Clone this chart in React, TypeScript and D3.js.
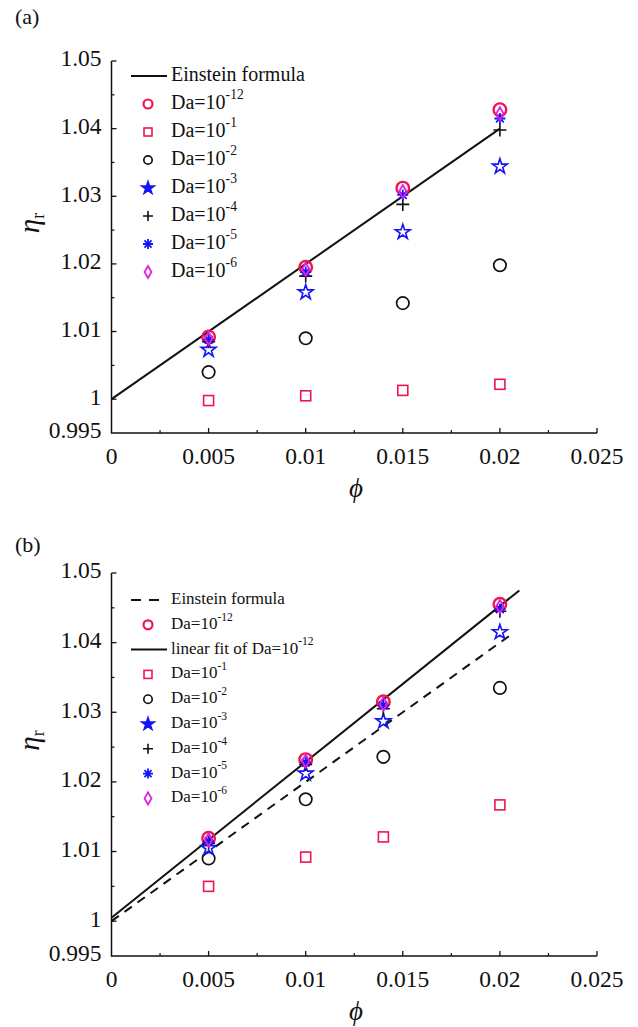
import React from "react";
import * as d3 from "d3";

const W = 638;
const H = 1027;

// ---------- data ----------
const phiA = [0.005, 0.01, 0.015, 0.02];
const phiB = [0.005, 0.01, 0.014, 0.02];

const daA_12 = [1.0092, 1.0195, 1.0312, 1.0428];
const daA_1 = [0.9998, 1.0005, 1.0013, 1.0022];
const daA_2 = [1.004, 1.009, 1.0142, 1.0198];
const daA_3 = [1.0073, 1.0158, 1.0247, 1.0344];
const daA_4 = [1.0085, 1.0182, 1.0288, 1.0398];
const daA_5 = [1.0088, 1.0188, 1.0302, 1.0415];
const daA_6 = [1.009, 1.0192, 1.0307, 1.0422];

const daB_12 = [1.0119, 1.0232, 1.0315, 1.0455];
const daB_1 = [1.005, 1.0092, 1.0121, 1.0167];
const daB_2 = [1.009, 1.0175, 1.0236, 1.0335];
const daB_3 = [1.0105, 1.0212, 1.0287, 1.0415];
const daB_4 = [1.0112, 1.0225, 1.0305, 1.0445];
const daB_5 = [1.0115, 1.0228, 1.031, 1.0448];
const daB_6 = [1.0117, 1.023, 1.0312, 1.0452];

// Einstein formula (2D): eta = 1 + 2 phi
const einsteinA_phi = [0, 0.02];
const einsteinA_eta = [1, 1.04];
const einsteinB_phi = [0, 0.0205];
const einsteinB_eta = [1, 1.041];
// linear fit of Da=1e-12 in (b)
const fitB_phi = [0, 0.021];
const fitB_eta = [1.0005, 1.0475];

const xTicks = [0, 0.005, 0.01, 0.015, 0.02, 0.025];
const xTickLabels = ["0", "0.005", "0.01", "0.015", "0.02", "0.025"];
const xMinor = [0.0025, 0.0075, 0.0125, 0.0175, 0.0225];
const yTicks = [0.995, 1, 1.01, 1.02, 1.03, 1.04, 1.05];
const yTickLabels = ["0.995", "1", "1.01", "1.02", "1.03", "1.04", "1.05"];
const yMinor = [1.005, 1.015, 1.025, 1.035, 1.045];

const daLabels = ["-12", "-1", "-2", "-3", "-4", "-5", "-6"];

// ---------- styles ----------
const RED = "#f0144f";
const BLUE = "#1515f5";
const MAG = "#e21ee2";
const FONT = "'Liberation Serif', 'Times New Roman', serif";

type Kind = "circR" | "sq" | "circK" | "star" | "plus" | "ast" | "dia";

function Marker({ kind, x, y, legend }: { kind: Kind; x: number; y: number; legend?: boolean }) {
  const t = `translate(${x},${y})`;
  switch (kind) {
    case "circR":
      return <circle cx={x} cy={y} r={legend ? 4.5 : 6.3} fill="none" stroke={RED} strokeWidth={legend ? 2.2 : 2.4} />;
    case "sq": {
      const s = legend ? 8 : 10;
      return <rect x={x - s / 2} y={y - s / 2} width={s} height={s} fill="none" stroke={RED} strokeWidth={1.6} />;
    }
    case "circK":
      return <circle cx={x} cy={y} r={legend ? 4.2 : 6.2} fill="none" stroke="#111" strokeWidth={1.7} />;
    case "star": {
      const R = legend ? 6.5 : 7.8;
      const d = d3.symbol().type(d3.symbolStar).size((R * R) / 0.8908130915292852)()!;
      return (
        <path d={d} transform={t} fill={legend ? BLUE : "none"} stroke={BLUE} strokeWidth={1.6} strokeLinejoin="miter" />
      );
    }
    case "plus": {
      const r = legend ? 5 : 6.5;
      return <path d={`M${-r},0H${r}M0,${-r}V${r}`} transform={t} stroke="#111" strokeWidth={1.6} fill="none" />;
    }
    case "ast": {
      const r = legend ? 5 : 5.5;
      const a = r * Math.SQRT1_2;
      return (
        <path
          d={`M${-r},0H${r}M0,${-r}V${r}M${-a},${-a}L${a},${a}M${-a},${a}L${a},${-a}`}
          transform={t}
          stroke={BLUE}
          strokeWidth={1.8}
          fill="none"
        />
      );
    }
    case "dia": {
      const hy = legend ? 6 : 6.5;
      const size = hy * hy * 2 * Math.tan(Math.PI / 6);
      const d = d3.symbol().type(d3.symbolDiamond).size(size)()!;
      return <path d={d} transform={t} fill="none" stroke={MAG} strokeWidth={1.8} />;
    }
  }
  return null;
}

type Series = { kind: Kind; phi: number[]; eta: number[] };
type Line = { phi: number[]; eta: number[]; dash?: string };
type LegendItem = { type: "line"; dash?: string; text: string } | { type: "marker"; kind: Kind; da: string };

function DaText({ x, y, da, fs }: { x: number; y: number; da: string; fs: number }) {
  return (
    <text x={x} y={y} fontSize={fs} fontFamily={FONT} fill="#111" dominantBaseline="middle">
      Da=10
      <tspan dy={-fs * 0.42} fontSize={fs * 0.68}>
        {da}
      </tspan>
    </text>
  );
}

function Panel({
  top,
  bottom,
  label,
  labelY,
  series,
  lines,
  legend,
  legendTop,
  legendStep,
  legendFs,
}: {
  top: number;
  bottom: number;
  label: string;
  labelY: number;
  series: Series[];
  lines: Line[];
  legend: LegendItem[];
  legendTop: number;
  legendStep: number;
  legendFs: number;
}) {
  const x = d3.scaleLinear().domain([0, 0.025]).range([111.5, 597]);
  const y = d3.scaleLinear().domain([0.995, 1.05]).range([bottom, top]);
  const line = d3
    .line<[number, number]>()
    .x((d) => x(d[0]))
    .y((d) => y(d[1]));
  const x0 = x(0);
  const tickFs = 23.5;
  const midY = (top + bottom) / 2;
  return (
    <g>
      <text x={15} y={labelY} fontSize={22} fontFamily={FONT} fill="#111" dominantBaseline="middle">
        {label}
      </text>
      {/* axes */}
      <path d={`M${x0},${top}V${bottom}H${x(0.025)}`} fill="none" stroke="#111" strokeWidth={1.5} />
      {yTicks.map((v, i) => (
        <g key={"yt" + i}>
          {v > 0.995 && <line x1={x0} x2={x0 + 5} y1={y(v)} y2={y(v)} stroke="#111" strokeWidth={1.3} />}
          <text
            x={x0 - 10}
            y={y(v)}
            fontSize={tickFs}
            fontFamily={FONT}
            textAnchor="end"
            dominantBaseline="middle"
            fill="#111"
          >
            {yTickLabels[i]}
          </text>
        </g>
      ))}
      {yMinor.map((v, i) => (
        <line key={"ym" + i} x1={x0} x2={x0 + 3} y1={y(v)} y2={y(v)} stroke="#111" strokeWidth={1.2} />
      ))}
      {xTicks.map((v, i) => (
        <g key={"xt" + i}>
          {v > 0 && <line x1={x(v)} x2={x(v)} y1={bottom} y2={bottom - 5} stroke="#111" strokeWidth={1.3} />}
          <text
            x={x(v)}
            y={bottom + 26}
            fontSize={tickFs}
            fontFamily={FONT}
            textAnchor="middle"
            dominantBaseline="middle"
            fill="#111"
          >
            {xTickLabels[i]}
          </text>
        </g>
      ))}
      {xMinor.map((v, i) => (
        <line key={"xm" + i} x1={x(v)} x2={x(v)} y1={bottom} y2={bottom - 3} stroke="#111" strokeWidth={1.2} />
      ))}
      {/* axis labels */}
      <text
        x={356}
        y={bottom + 58}
        fontSize={27}
        fontFamily={FONT}
        fontStyle="italic"
        textAnchor="middle"
        dominantBaseline="middle"
        fill="#111"
      >
        ϕ
      </text>
      <text
        transform={`translate(32,${midY - 24}) rotate(-90)`}
        fontSize={29}
        fontFamily={FONT}
        fontStyle="italic"
        textAnchor="middle"
        dominantBaseline="middle"
        fill="#111"
      >
        η
        <tspan fontSize={18} fontStyle="normal" dy={8}>
          r
        </tspan>
      </text>
      {/* lines */}
      {lines.map((l, i) => (
        <path
          key={"l" + i}
          d={line(l.phi.map((p, j) => [p, l.eta[j]] as [number, number]))!}
          fill="none"
          stroke="#111"
          strokeWidth={2}
          strokeDasharray={l.dash}
        />
      ))}
      {/* markers */}
      {series.map((s, si) =>
        s.phi.map((p, j) => <Marker key={`m${si}-${j}`} kind={s.kind} x={x(p)} y={y(s.eta[j])} />)
      )}
      {/* legend */}
      {legend.map((it, i) => {
        const ly = legendTop + i * legendStep;
        if (it.type === "line") {
          return (
            <g key={"lg" + i}>
              <line x1={131} x2={167} y1={ly} y2={ly} stroke="#111" strokeWidth={2} strokeDasharray={it.dash} />
              <text x={171} y={ly} fontSize={legendFs} fontFamily={FONT} fill="#111" dominantBaseline="middle">
                {it.text.includes("|") ? (
                  <>
                    {it.text.split("|")[0]}
                    <tspan dy={-legendFs * 0.42} fontSize={legendFs * 0.68}>
                      {it.text.split("|")[1]}
                    </tspan>
                  </>
                ) : (
                  it.text
                )}
              </text>
            </g>
          );
        }
        return (
          <g key={"lg" + i}>
            <Marker kind={it.kind} x={148} y={ly} legend />
            <DaText x={171} y={ly} da={it.da} fs={legendFs} />
          </g>
        );
      })}
    </g>
  );
}

export default function App() {
  const kinds: Kind[] = ["circR", "sq", "circK", "star", "plus", "ast", "dia"];
  const dataA = [daA_12, daA_1, daA_2, daA_3, daA_4, daA_5, daA_6];
  const dataB = [daB_12, daB_1, daB_2, daB_3, daB_4, daB_5, daB_6];
  const seriesA: Series[] = kinds.map((k, i) => ({ kind: k, phi: phiA, eta: dataA[i] }));
  const seriesB: Series[] = kinds.map((k, i) => ({ kind: k, phi: phiB, eta: dataB[i] }));

  const legendA: LegendItem[] = [
    { type: "line", text: "Einstein formula" },
    ...kinds.map((k, i) => ({ type: "marker" as const, kind: k, da: daLabels[i] })),
  ];
  const legendB: LegendItem[] = [
    { type: "line", dash: "10,8", text: "Einstein formula" },
    { type: "marker", kind: "circR", da: daLabels[0] },
    { type: "line", text: "linear fit of Da=10|-12" },
    ...kinds.slice(1).map((k, i) => ({ type: "marker" as const, kind: k, da: daLabels[i + 1] })),
  ];

  return (
    <svg
      width={W}
      height={H}
      viewBox={`0 0 ${W} ${H}`}
      style={{ position: "absolute", left: 0, top: 0, background: "#fff" }}
    >
      <rect width={W} height={H} fill="#fff" />
      <Panel
        top={61}
        bottom={433}
        label="(a)"
        labelY={19}
        series={seriesA}
        lines={[{ phi: einsteinA_phi, eta: einsteinA_eta }]}
        legend={legendA}
        legendTop={76}
        legendStep={28}
        legendFs={20}
      />
      <Panel
        top={573}
        bottom={956}
        label="(b)"
        labelY={547}
        series={seriesB}
        lines={[
          { phi: einsteinB_phi, eta: einsteinB_eta, dash: "9,7" },
          { phi: fitB_phi, eta: fitB_eta },
        ]}
        legend={legendB}
        legendTop={600}
        legendStep={24.8}
        legendFs={17}
      />
    </svg>
  );
}
